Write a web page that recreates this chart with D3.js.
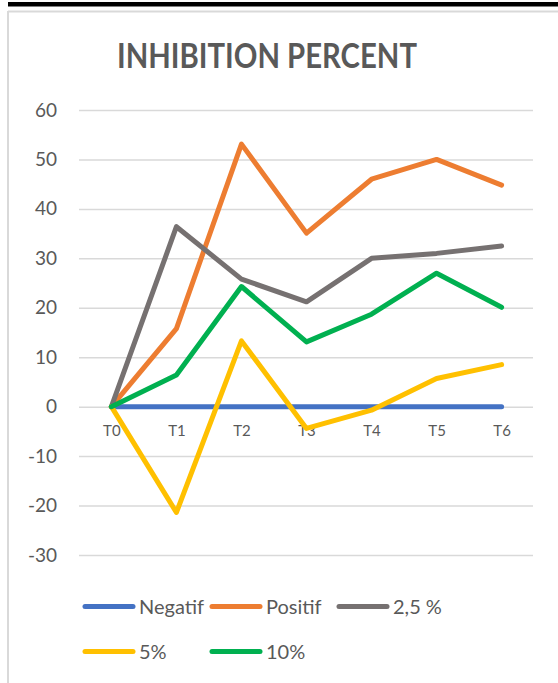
<!DOCTYPE html>
<html><head><meta charset="utf-8">
<script src="https://cdn.jsdelivr.net/npm/d3@7"></script>
<style>html,body{margin:0;padding:0;background:#fff;}svg{display:block;}</style>
</head><body>
<script>
const categories = ["T0","T1","T2","T3","T4","T5","T6"];
const seriesNames = ["Negatif","Positif","2,5 %","5%","10%"];
const negatif = [0,0,0,0,0,0,0];
const positif = [0,15.8,53.1,35.1,46,50,44.8];
const p25 = [0,36.4,25.8,21.2,30,31,32.5];
const p5 = [0,-21.4,13.3,-4.4,-0.7,5.7,8.5];
const p10 = [0,6.4,24.3,13.1,18.7,27,20.1];
const yTicks = [-30,-20,-10,0,10,20,30,40,50,60];
const colors = ["#4472C4","#ED7D31","#767171","#FFC000","#00B050"];
const seriesValues = [negatif, positif, p25, p5, p10];

const W = 558, H = 683;
const svg = d3.select("body").append("svg").attr("width", W).attr("height", H);
const font = "Lato, 'Open Sans', sans-serif";

// outer frame
svg.append("rect").attr("x",8).attr("y",2).attr("width",W-8).attr("height",4.5).attr("fill","#000");
svg.append("line").attr("x1",8).attr("x2",W).attr("y1",11.5).attr("y2",11.5).attr("stroke","#d9d9d9").attr("stroke-width",2);
svg.append("line").attr("x1",8).attr("x2",8).attr("y1",11).attr("y2",H).attr("stroke","#d9d9d9").attr("stroke-width",2);

// title
svg.append("text").attr("x",267).attr("y",68).attr("text-anchor","middle")
  .attr("font-family",font).attr("font-weight","bold").attr("font-size",34)
  .attr("textLength",300).attr("lengthAdjust","spacingAndGlyphs")
  .attr("fill","#595959").text("INHIBITION PERCENT");

const x = d3.scalePoint().domain(categories).range([111.4, 501.6]);
const y = d3.scaleLinear().domain([-30,60]).range([555, 110]);

// gridlines
const yAxis = d3.axisLeft(y).tickValues(yTicks).tickSize(-(533-79)).tickPadding(22).tickFormat(d => String(d));
const gy = svg.append("g").attr("transform","translate(79,0)").call(yAxis);
gy.select(".domain").remove();
gy.selectAll(".tick line").attr("stroke","#d9d9d9").attr("stroke-width",1.5);
gy.selectAll(".tick text").attr("font-family",font).attr("font-size",19).attr("fill","#595959");

// x labels at y=0
const xAxis = d3.axisBottom(x).tickSize(0).tickPadding(19);
const gx = svg.append("g").attr("transform",`translate(0,${y(0)})`).call(xAxis);
gx.select(".domain").remove();
gx.selectAll(".tick text").attr("font-family",font).attr("font-size",15).attr("fill","#595959");

// lines
const line = d3.line().x((d,i)=>x(categories[i])).y(d=>y(d));
seriesValues.forEach((vals,k)=>{
  svg.append("path").datum(vals).attr("d",line).attr("fill","none")
    .attr("stroke",colors[k]).attr("stroke-width",5).attr("stroke-linejoin","round").attr("stroke-linecap","round");
});

// legend
const legendPos = [[83,606.5],[210,606.5],[337,606.5],[83,651.5],[210,651.5]];
seriesNames.forEach((n,k)=>{
  const [lx,ly] = legendPos[k];
  svg.append("line").attr("x1",lx+2).attr("x2",lx+50).attr("y1",ly).attr("y2",ly)
    .attr("stroke",colors[k]).attr("stroke-width",5).attr("stroke-linecap","round");
  svg.append("text").attr("x",lx+56).attr("y",ly+7).attr("font-family",font).attr("font-size",20)
    .attr("fill","#595959").text(n);
});
</script>
</body></html>
